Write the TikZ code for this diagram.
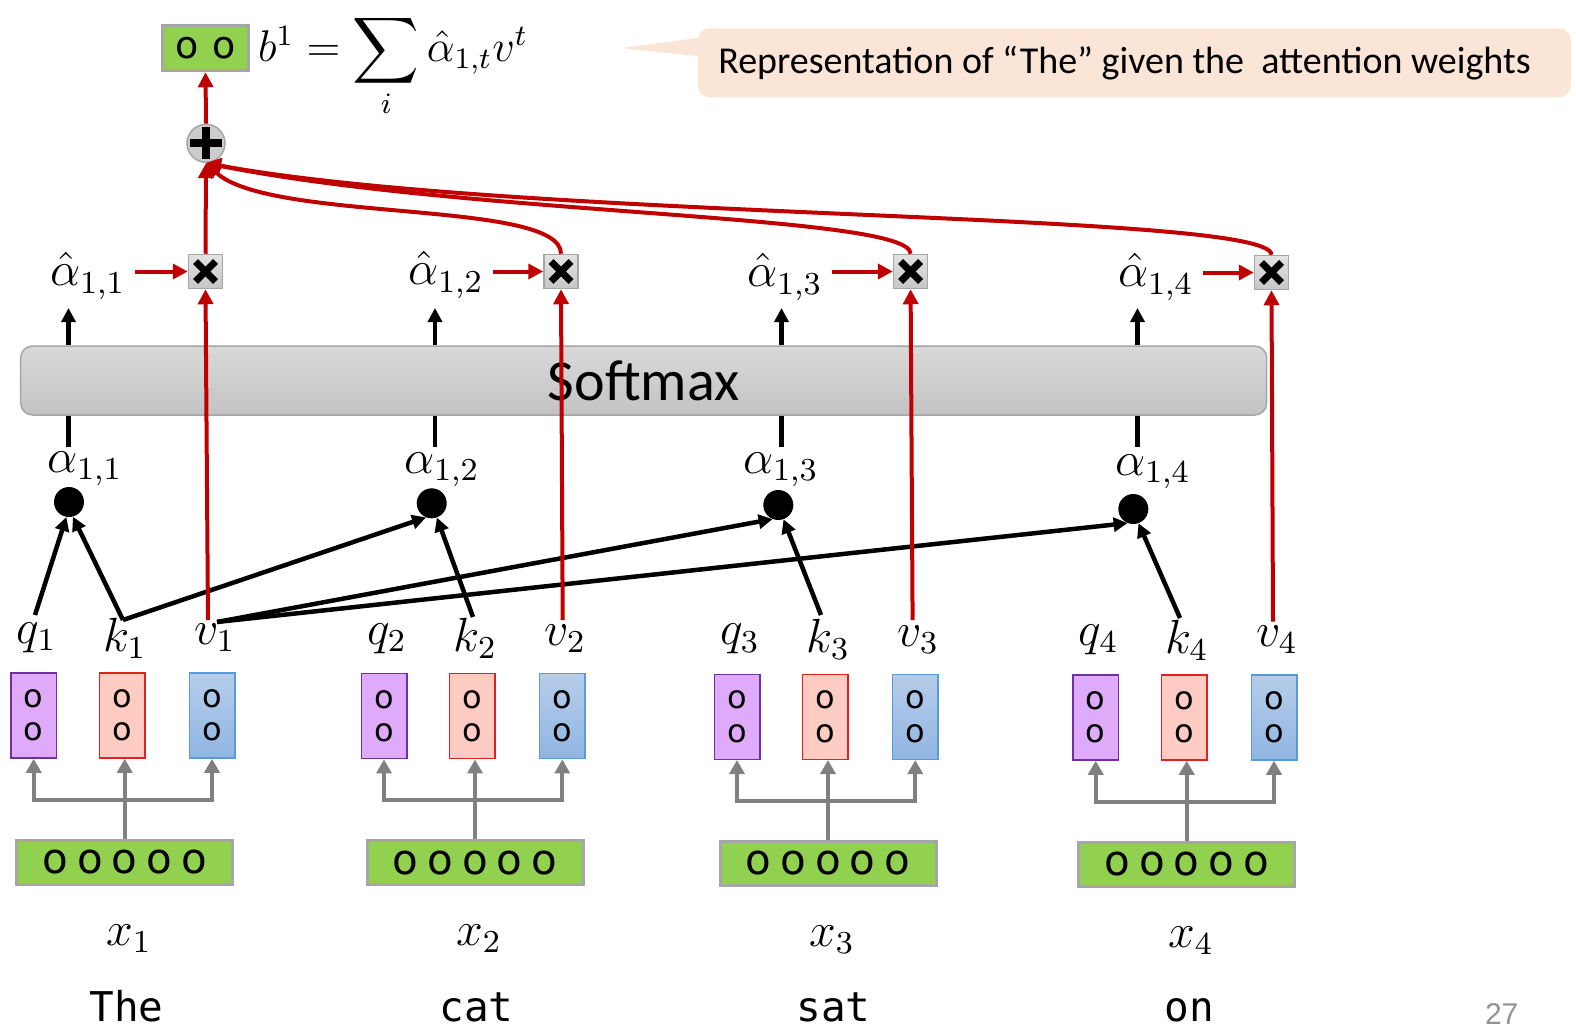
\documentclass[tikz,border=0pt]{standalone}
\usepackage{graphicx}
\usepackage[no-math]{fontspec}
\setmainfont{DejaVu Sans}
\newfontfamily\carl{Carlito}
\newfontfamily\libsans{Liberation Sans}
\newfontfamily\dmono{DejaVu Sans Mono}
\usetikzlibrary{arrows.meta,calc}
\definecolor{myred}{HTML}{C00000}
\definecolor{qfill}{HTML}{E0AAFA}
\definecolor{qdraw}{HTML}{7030A0}
\definecolor{kfill}{HTML}{FFCCC4}
\definecolor{kdraw}{HTML}{DD2222}
\definecolor{vtop}{HTML}{B6CDEA}
\definecolor{vbot}{HTML}{90B5E2}
\definecolor{vdraw}{HTML}{5B9BD5}
\definecolor{grn}{HTML}{92D050}
\definecolor{grnb}{HTML}{A6A6A6}
\definecolor{peach}{HTML}{FBE5D6}
\definecolor{conn}{HTML}{808080}
\newcommand\ofive{o\kern9pt o\kern9pt o\kern9pt o\kern9pt o}
\newcommand\otwo{o\kern14pt o}
\newcommand\mth[2]{\scalebox{#1}{$#2$}}
\newcommand\bigsum{\mathop{\vcenter{\hbox{\scalebox{1.25}{$\displaystyle\sum$}}}}}
\begin{document}
\begin{tikzpicture}[x=1pt,y=-1pt,
  vecbox/.style={rectangle, minimum width=45.5pt, minimum height=85pt, inner sep=0pt, line width=1.5pt, align=center, font=\fontsize{32}{33.3}\selectfont},
  qbox/.style={vecbox, draw=qdraw, fill=qfill},
  kbox/.style={vecbox, draw=kdraw, fill=kfill},
  vbox/.style={vecbox, draw=vdraw, top color=vtop, bottom color=vbot},
  gbox/.style={rectangle, draw=grnb, fill=grn, line width=3pt, minimum width=216pt, minimum height=44pt, inner sep=0pt, font=\fontsize{42}{44}\selectfont},
  lab/.style={inner sep=0pt, font=\fontsize{12}{14}\selectfont},
  word/.style={inner sep=0pt, font=\dmono\fontsize{41}{44}\selectfont},
  dot/.style={circle, fill=black, minimum size=30pt, inner sep=0pt},
  mul/.style={rectangle, minimum size=34pt, inner sep=0pt, draw=gray!70, line width=1.5pt, top color=gray!22, bottom color=gray!45},
  connarr/.style={draw=conn, line width=4pt, -{Triangle[length=14pt,width=15pt]}},
  blkarr/.style={draw=black, line width=4.5pt, -{Triangle[length=14pt,width=14pt]}},
  blkline/.style={draw=black, line width=4.5pt},
  redarr/.style={draw=myred, line width=4pt, -{Triangle[length=15pt,width=15pt]}}
]
\useasboundingbox (0,0) rectangle (1576,1030);

% ---------- bottom groups ----------
\foreach \i/\gx/\dy/\xl/\wx/\tw in {1/10.7/0/129/126.5/The, 2/361/0.7/479/476.5/cat, 3/714/1.3/832/833.5/sat, 4/1072.7/2/1191/1189/on} {
  \node[qbox] (q\i) at (\gx+23,715.5+\dy) {o\\o};
  \node[kbox] (k\i) at (\gx+111.3,715.5+\dy) {o\\o};
  \node[vbox] (v\i) at (\gx+201.3,715.5+\dy) {o\\o};
  \node[gbox] (g\i) at (\gx+114,862+\dy) {\ofive};
  \coordinate (h\i) at ($(g\i.north)+(0,-39)$);
  \draw[connarr] (g\i.north) -- (g\i.north |- k\i.south);
  \draw[connarr] (h\i) -| (q\i.south);
  \draw[connarr] (h\i) -| (v\i.south);
  \node[lab] (ql\i) at (\gx+26,638+\dy) {\mth{4}{q_{\i}}};
  \node[lab] (kl\i) at (\gx+114.3,638+\dy) {\mth{4}{k_{\i}}};
  \node[lab] (vl\i) at (\gx+204.3,638+\dy) {\mth{4}{v_{\i}}};
  \node[lab, anchor=base] (x\i) at (\xl,945+\dy) {\mth{4}{x_{\i}}};
  \node[word, anchor=base] (w\i) at (\wx,1021) {\tw};
}

% ---------- attention dots ----------
\node[dot] (a1) at (69,502) {};
\node[dot] (a2) at (431.7,503.3) {};
\node[dot] (a3) at (778.3,505) {};
\node[dot] (a4) at (1133.3,509) {};
\node[lab] (al1) at (85,468.5) {\mth{4}{\alpha_{1,1}}};
\node[lab] (al2) at (442,470) {\mth{4}{\alpha_{1,2}}};
\node[lab] (al3) at (781,470) {\mth{4}{\alpha_{1,3}}};
\node[lab] (al4) at (1153,472) {\mth{4}{\alpha_{1,4}}};

\coordinate (qt1) at (35,615);
\coordinate (kt1) at (123,620);
\coordinate (vt1) at (217,622);
\coordinate (kt2) at (473,617);
\coordinate (kt3) at (821,615);
\coordinate (kt4) at (1180,618);
\draw[blkarr] (qt1) -- (a1.-100);
\draw[blkarr] (kt1) -- (a1.-75);
\draw[blkarr] (kt1) -- (a2.-112);
\draw[blkarr] (vt1) -- (a3.-112);
\draw[blkarr] (vt1) -- (a4.-112);
\draw[blkarr] (kt2) -- (a2.-70);
\draw[blkarr] (kt3) -- (a3.-70);
\draw[blkarr] (kt4) -- (a4.-70);

% ---------- softmax ----------
\node[rectangle, rounded corners=12pt, draw=gray!70, line width=1.5pt, top color=gray!30, bottom color=gray!47, minimum width=1246pt, minimum height=69pt, inner sep=0pt, font=\carl\fontsize{58}{60}\selectfont] (sm) at (643.7,380.5) {Softmax};

\foreach \i/\cx in {1/68.5, 2/435, 3/781.5, 4/1137.5} {
  \coordinate (sb\i) at (\cx,447);
  \coordinate (st\i) at (\cx,308);
  \draw[blkline] (sb\i) -- (sb\i |- sm.south);
  \draw[blkarr] (sb\i |- sm.north) -- (st\i);
}

% ---------- alpha hat and multiply ----------
\node[lab] (ah1) at (88,276) {\mth{4}{\hat\alpha_{1,1}}};
\node[lab] (ah2) at (446,275) {\mth{4}{\hat\alpha_{1,2}}};
\node[lab] (ah3) at (785,277) {\mth{4}{\hat\alpha_{1,3}}};
\node[lab] (ah4) at (1156,277) {\mth{4}{\hat\alpha_{1,4}}};
\node[mul] (m1) at (205.5,271.5) {};
\node[mul] (m2) at (561,271.5) {};
\node[mul] (m3) at (910.6,271.5) {};
\node[mul] (m4) at (1271.5,272.5) {};
\foreach \j in {1,...,4} {
  \draw[line width=7pt] ($(m\j.center)+(-10,-10)$) -- ($(m\j.center)+(10,10)$);
  \draw[line width=7pt] ($(m\j.center)+(-10,10)$) -- ($(m\j.center)+(10,-10)$);
  \draw[redarr] ($(ah\j.east |- m\j.west)+(9,0)$) -- (m\j.west);
}
\coordinate (rv1) at (208,620);
\coordinate (rv2) at (562.7,620);
\coordinate (rv3) at (912.6,620);
\coordinate (rv4) at (1273,621.7);
\foreach \j in {1,...,4} { \draw[redarr] (rv\j) -- (m\j.south); }

% ---------- sum ----------
\node[circle, minimum size=38pt, inner sep=0pt, draw=gray!70, line width=1.5pt, fill=gray!40] (pl) at (206,143.3) {};
\draw[line width=8pt] ($(pl.center)+(-16,0)$) -- ($(pl.center)+(16,0)$);
\draw[line width=8pt] ($(pl.center)+(0,-16)$) -- ($(pl.center)+(0,16)$);
\node[rectangle, draw=grnb, fill=grn, line width=3pt, minimum width=85.6pt, minimum height=45.7pt, inner sep=0pt, font=\fontsize{38}{40}\selectfont] (b1) at (205.5,47.9) {\otwo};

\draw[redarr] (m1.north) -- (pl.south);
\draw[redarr] (m2.north) .. controls +(0,-54.5) and +(64,59.7) .. (pl.south);
\draw[redarr] (m3.north) .. controls +(0,-39.5) and +(264,52.7) .. (pl.south);
\draw[redarr] (m4.north) .. controls +(0,-43.5) and +(314,57.7) .. (pl.south);
\draw[redarr] (pl.north) -- (b1.south);

\node[anchor=base west, inner sep=0pt, font=\fontsize{12}{14}\selectfont] (f) at (258,62) {\mth{3.7}{b^1 = \bigsum\limits_i \hat\alpha_{1,t} v^t}};

% ---------- callout ----------
\node[rectangle, rounded corners=12pt, fill=peach, minimum width=873pt, minimum height=69pt, inner sep=0pt] (co) at (1134.3,62.8) {};
\coordinate (ptip) at (621,48);
\fill[peach] ($(co.west)+(0,-24.8)$) -- (ptip) -- ($(co.west)+(0,-6.8)$) -- cycle;
\node[inner sep=0pt, font=\carl\fontsize{38}{42}\selectfont] (cot) at (1124.5,63) {Representation of “The” given the\ \ attention weights};

\node[inner sep=0pt, text=gray!85, font=\libsans\fontsize{30}{30}\selectfont] (pg) at (1501.7,1014) {27};
\end{tikzpicture}
\end{document}
